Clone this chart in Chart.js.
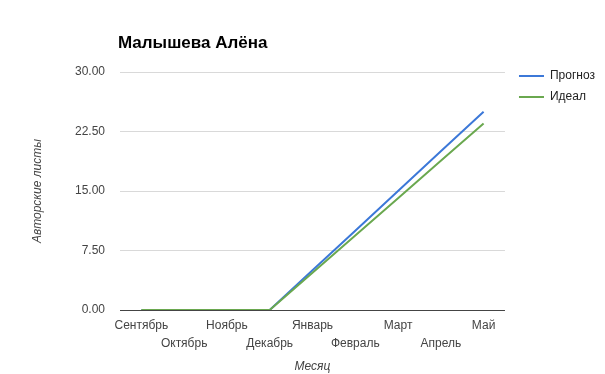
<!DOCTYPE html>
<html>
<head>
<meta charset="utf-8">
<script src="https://cdn.jsdelivr.net/npm/chart.js@4/dist/chart.umd.min.js"></script>
<style>
  html, body { margin: 0; padding: 0; background: #fff; }
  #wrap { position: relative; width: 605px; height: 374px; }
  #title { position: absolute; left: 118px; top: 33px; font: bold 17px "Liberation Sans", Arial, sans-serif; color: #000; }
  canvas { position: absolute; left: 0; top: 0; }
</style>
</head>
<body>
<div id="wrap">
  <canvas id="c" width="605" height="374"></canvas>
  <div id="title">Малышева Алёна</div>
</div>
<script>
const months = ['Сентябрь','Октябрь','Ноябрь','Декабрь','Январь','Февраль','Март','Апрель','Май'];
const forecast = [0, 0, 0, 0, 5, 10, 15, 20, 25];
const ideal = [0, 0, 0, 0, 4.7, 9.4, 14.1, 18.8, 23.5];
const seriesNames = ['Прогноз', 'Идеал'];
const yTitle = 'Авторские листы';
const xTitle = 'Месяц';

const FONT = '"Liberation Sans", Arial, sans-serif';

const legendShift = {
  id: 'legendShift',
  beforeDraw(chart) {
    const lg = chart.legend;
    if (lg && !lg._shifted) {
      lg.left += 5; lg.right += 5;
      lg.top -= 11; lg.bottom -= 11;
      lg._shifted = true;
    }
  }
};

new Chart(document.getElementById('c'), {
  type: 'line',
  data: {
    labels: months,
    datasets: [
      { label: seriesNames[0], data: forecast, borderColor: '#3c78d8', backgroundColor: '#3c78d8', borderWidth: 2, pointRadius: 0, tension: 0, order: 1 },
      { label: seriesNames[1], data: ideal, borderColor: '#6aa84f', backgroundColor: '#6aa84f', borderWidth: 2, pointRadius: 0, tension: 0, order: 0 }
    ]
  },
  options: {
    responsive: false,
    animation: false,
    devicePixelRatio: 1,
    layout: { padding: { top: 72, right: 5, bottom: 0, left: 0 } },
    plugins: {
      tooltip: { enabled: false },
      legend: {
        position: 'right',
        align: 'start',
        labels: {
          boxWidth: 25,
          boxHeight: 0,
          padding: 9,
          color: '#222',
          font: { family: FONT, size: 12 },
          sort: (a, b) => a.datasetIndex - b.datasetIndex
        }
      }
    },
    scales: {
      x: {
        offset: true,
        grid: { display: false },
        border: { display: false },
        ticks: {
          autoSkip: false,
          maxRotation: 0,
          minRotation: 0,
          padding: -1,
          color: '#444',
          font: { family: FONT, size: 12, lineHeight: 1.5 },
          callback: function(v, i) { const l = this.getLabelForValue(v); return i % 2 === 0 ? l : ['', l]; }
        },
        title: { display: true, text: xTitle, color: '#444', font: { family: FONT, size: 12, style: 'italic' }, padding: { top: 0, bottom: 0 } },
        afterFit(scale) { scale.height = 64; }
      },
      y: {
        min: 0,
        max: 30,
        border: { display: false },
        grid: {
          drawTicks: false,
          color: ctx => ctx.tick && ctx.tick.value === 0 ? '#444' : '#d9d9d9',
          lineWidth: 1
        },
        ticks: {
          stepSize: 7.5,
          padding: 15,
          color: '#444',
          font: { family: FONT, size: 12 },
          callback: v => Number(v).toFixed(2)
        },
        title: { display: true, text: yTitle, color: '#444', font: { family: FONT, size: 12, style: 'italic' }, padding: { top: 30, bottom: 0 } },
        afterFit(scale) { scale.width = 120; }
      }
    }
  },
  plugins: [legendShift]
});
</script>
</body>
</html>
